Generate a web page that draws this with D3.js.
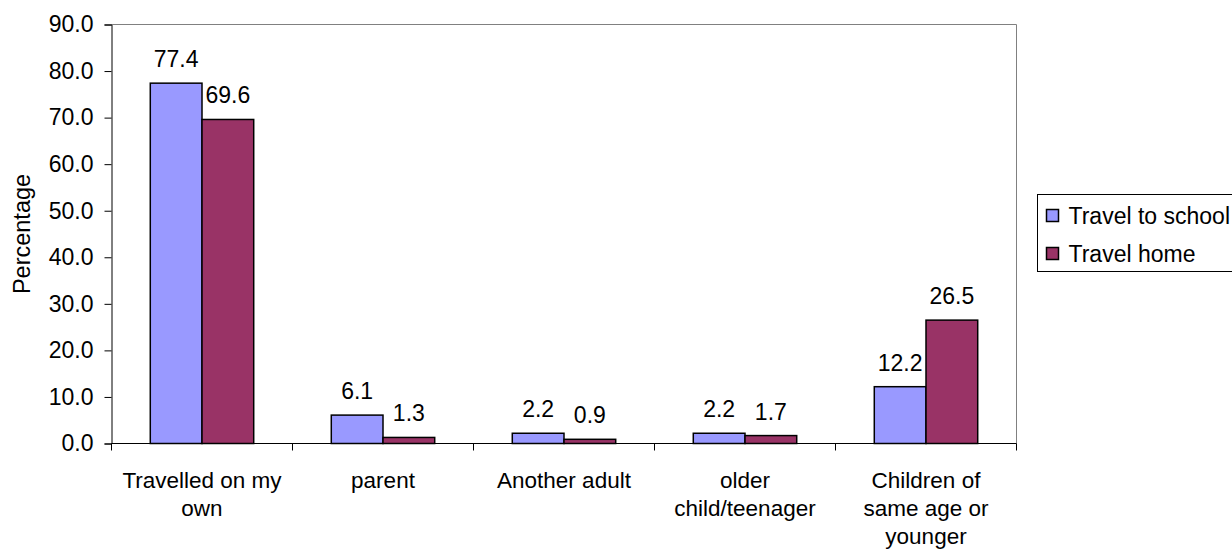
<!DOCTYPE html>
<html>
<head>
<meta charset="utf-8">
<script src="https://cdn.jsdelivr.net/npm/d3@7"></script>
<style>
  html, body { margin: 0; padding: 0; background: #fff; }
  svg { display: block; }
  text { font-family: "Liberation Sans", Arial, sans-serif; fill: #000; }
</style>
</head>
<body>
<svg id="chart" width="1232" height="551"></svg>
<script>
// Who the child travelled with (percent of respondents)
const categories = [
  "Travelled on my\nown",
  "parent",
  "Another adult",
  "older\nchild/teenager",
  "Children of\nsame age or\nyounger"
];
const seriesNames = ["Travel to school", "Travel home"];
const travelToSchool = [77.4, 6.1, 2.2, 2.2, 12.2];
const travelHome = [69.6, 1.3, 0.9, 1.7, 26.5];
const yTicks = [0, 10, 20, 30, 40, 50, 60, 70, 80, 90];
const seriesColors = ["#9999FF", "#993366"];

const svg = d3.select("#chart");
const plot = { left: 111.5, right: 1016.5, top: 24.5, bottom: 443.5 };

const x = d3.scaleBand()
  .domain(categories)
  .range([plot.left, plot.right])
  .paddingInner(0).paddingOuter(0);

// two bars per category, gap width 150% of a bar
const barW = x.bandwidth() / 3.5;
const xs = d3.scaleBand()
  .domain(seriesNames)
  .range([x.bandwidth() / 2 - barW, x.bandwidth() / 2 + barW]);

const y = d3.scaleLinear().domain([0, 90]).range([plot.bottom, plot.top]);

// plot-area frame (top and right edges)
svg.append("path")
  .attr("d", `M${plot.left},${plot.top}H${plot.right}V${plot.bottom}`)
  .attr("fill", "none").attr("stroke", "#808080").attr("stroke-width", 1);

// y axis
const yAxis = d3.axisLeft(y).tickValues(yTicks)
  .tickFormat(d3.format(".1f")).tickSize(7).tickPadding(11);
const gy = svg.append("g").attr("transform", `translate(${plot.left},0)`).call(yAxis);
gy.select(".domain").attr("stroke", "#000");
gy.selectAll(".tick line").attr("stroke", "#000");
gy.selectAll(".tick text")
  .attr("font-size", 23).attr("font-family", "Liberation Sans, Arial, sans-serif")
  .attr("fill", "#000");

// x axis: ticks on category boundaries
const gx = svg.append("g").attr("transform", `translate(0,${plot.bottom})`);
gx.append("line").attr("x1", plot.left).attr("x2", plot.right)
  .attr("stroke", "#000");
const bounds = categories.map(c => x(c)).concat([x(categories[categories.length - 1]) + x.bandwidth()]);
gx.selectAll("line.tk").data(bounds).join("line").attr("class", "tk")
  .attr("x1", d => d).attr("x2", d => d).attr("y1", 0).attr("y2", 7)
  .attr("stroke", "#000");

// category labels (multi-line)
const catLabels = svg.append("g");
categories.forEach(c => {
  const t = catLabels.append("text")
    .attr("text-anchor", "middle").attr("font-size", 22.5)
    .attr("x", x(c) + x.bandwidth() / 2).attr("y", plot.bottom + 44);
  c.split("\n").forEach((line, i) => {
    t.append("tspan").attr("x", x(c) + x.bandwidth() / 2)
      .attr("dy", i === 0 ? 0 : 28).text(line);
  });
});

// bars
const rows = categories.map((c, i) => ({ cat: c, vals: [travelToSchool[i], travelHome[i]] }));
const groups = svg.append("g").selectAll("g").data(rows).join("g")
  .attr("transform", d => `translate(${x(d.cat)},0)`);

groups.selectAll("rect")
  .data(d => d.vals.map((v, k) => ({ name: seriesNames[k], v, k })))
  .join("rect")
  .attr("x", d => xs(d.name))
  .attr("width", xs.bandwidth())
  .attr("y", d => y(d.v))
  .attr("height", d => y(0) - y(d.v))
  .attr("fill", d => seriesColors[d.k])
  .attr("stroke", "#000").attr("stroke-width", 1.5);

// value labels
groups.selectAll("text.val")
  .data(d => d.vals.map((v, k) => ({ name: seriesNames[k], v, k })))
  .join("text").attr("class", "val")
  .attr("text-anchor", "middle").attr("font-size", 23)
  .attr("x", d => xs(d.name) + xs.bandwidth() / 2)
  .attr("y", d => y(d.v) - 16)
  .text(d => d3.format(".1f")(d.v));

// y axis title
svg.append("text")
  .attr("transform", `translate(30,${(plot.top + plot.bottom) / 2}) rotate(-90)`)
  .attr("text-anchor", "middle").attr("font-size", 23.5)
  .text("Percentage");

// legend
const lg = svg.append("g").attr("transform", "translate(1037.5,194.5)");
lg.append("rect").attr("width", 205).attr("height", 77)
  .attr("fill", "#fff").attr("stroke", "#000").attr("stroke-width", 1);
seriesNames.forEach((name, k) => {
  const row = lg.append("g").attr("transform", `translate(9,${15 + k * 38})`);
  row.append("rect").attr("width", 12).attr("height", 12)
    .attr("fill", seriesColors[k]).attr("stroke", "#000").attr("stroke-width", 1.5);
  row.append("text").attr("x", 22).attr("y", 14).attr("font-size", 23).text(name);
});
</script>
</body>
</html>
